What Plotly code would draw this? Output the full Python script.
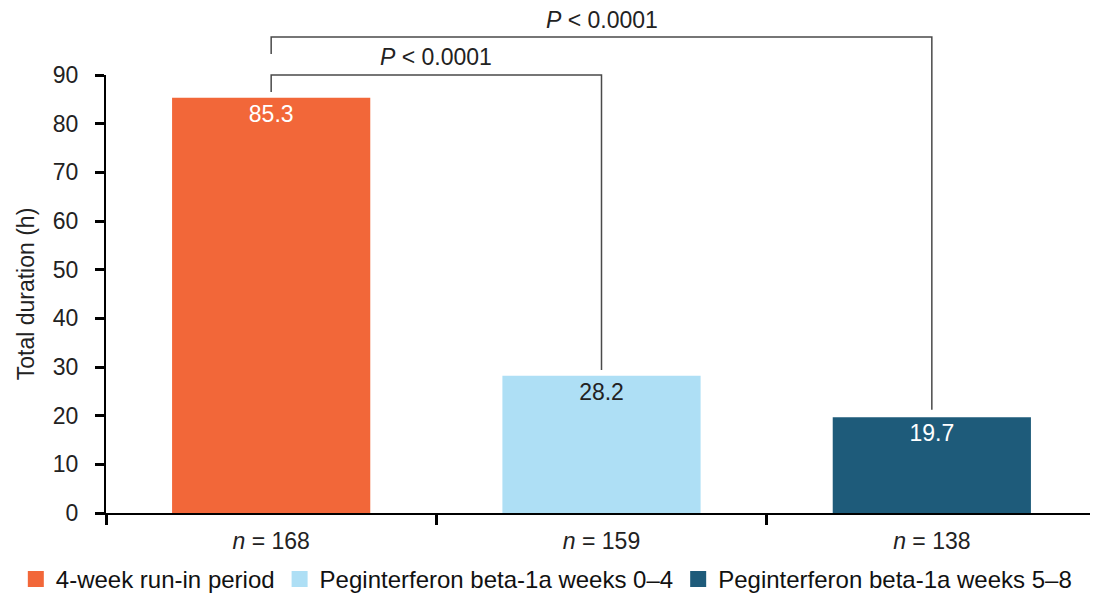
import plotly.graph_objects as go

categories = ["<i>n</i> = 168", "<i>n</i> = 159", "<i>n</i> = 138"]
series_names = ["4-week run-in period", "Peginterferon beta-1a weeks 0\u20134", "Peginterferon beta-1a weeks 5\u20138"]
values = [85.3, 28.2, 19.7]
labels = ["85.3", "28.2", "19.7"]
colors = ["#F26739", "#AEDFF5", "#1E5B7A"]
text_colors = ["white", "#222222", "white"]
p_labels = ["<i>P</i> &lt; 0.0001", "<i>P</i> &lt; 0.0001"]

FONT = "Liberation Sans, Arial, sans-serif"
Y_MAX = 90
FS = 23

fig = go.Figure()
for i in range(3):
    fig.add_trace(go.Bar(
        x=[categories[i]], y=[values[i]], name=series_names[i],
        marker=dict(color=colors[i], line=dict(width=0)),
        width=0.6, text=[labels[i]], textposition="inside", insidetextanchor="end",
        textfont=dict(color=text_colors[i], size=FS, family=FONT),
        showlegend=False, hoverinfo="skip",
    ))
# legend entries with square markers
for i in range(3):
    fig.add_trace(go.Scatter(
        x=[None], y=[None], mode="markers", name=series_names[i],
        marker=dict(symbol="square", size=18, color=colors[i]),
        showlegend=True,
    ))

def px(i):
    return (i + 0.5) / 3.0

def py(v):
    return v / Y_MAX

line = dict(color="#4a4a4a", width=1.5)
shapes = []
b1 = dict(top=90, left_end=86.5, right_end=29.4, a=0, b=1)
b2 = dict(top=97.8, left_end=94.3, right_end=21.2, a=0, b=2)
for b in (b1, b2):
    shapes.append(dict(type="path", xref="paper", yref="paper",
                       path=f"M {px(b['a'])} {py(b['left_end'])} L {px(b['a'])} {py(b['top'])} "
                            f"L {px(b['b'])} {py(b['top'])} L {px(b['b'])} {py(b['right_end'])}",
                       line=line))

annotations = [
    dict(x=(px(0) + px(1)) / 2, y=py(93.6), xref="paper", yref="paper", text=p_labels[0],
         showarrow=False, font=dict(size=FS, family=FONT, color="#222222"), xanchor="center", yanchor="middle"),
    dict(x=(px(0) + px(2)) / 2, y=py(101.4), xref="paper", yref="paper", text=p_labels[1],
         showarrow=False, font=dict(size=FS, family=FONT, color="#222222"), xanchor="center", yanchor="middle"),
]

fig.update_layout(
    width=1090, height=587,
    margin=dict(l=98, r=1, t=67, b=82, autoexpand=False),
    plot_bgcolor="white", paper_bgcolor="white",
    font=dict(family=FONT, size=FS, color="#222222"),
    bargap=0.4,
    shapes=shapes, annotations=annotations,
    legend=dict(orientation="h", x=-0.091, xanchor="left", y=-0.1, yanchor="top",
                font=dict(size=24, family=FONT, color="#111111"),
                itemwidth=30, tracegroupgap=0, itemclick=False),
    xaxis=dict(
        categoryorder="array", categoryarray=categories, automargin=False,
        showline=True, linecolor="black", linewidth=2,
        ticks="outside", tickson="boundaries", ticklen=10, tickwidth=2.5, tickcolor="black",
        tickfont=dict(size=FS, family=FONT, color="#222222"),
        ticklabelstandoff=6,
        showgrid=False, zeroline=False, range=[-0.5, 2.5],
    ),
    yaxis=dict(
        range=[0, Y_MAX], dtick=10, tick0=0, automargin=False,
        showline=True, linecolor="black", linewidth=2,
        ticks="outside", ticklen=9, tickwidth=2.5, tickcolor="black",
        tickfont=dict(size=FS, family=FONT, color="#222222"),
        ticklabelstandoff=12,
        showgrid=False, zeroline=False,
        title=dict(text="Total duration (h)", font=dict(size=FS, family=FONT, color="#222222"), standoff=12),
    ),
)

fig.write_html("out.html")
